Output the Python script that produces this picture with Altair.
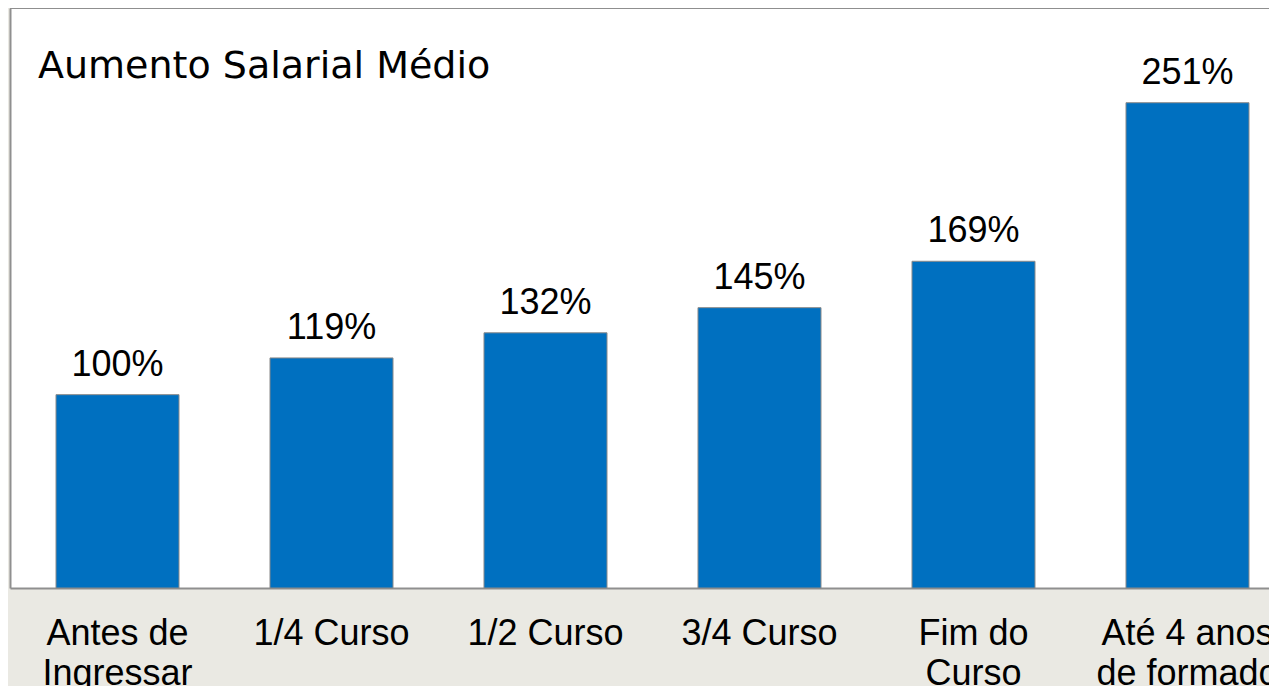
import altair as alt
import pandas as pd

TITLE = "Aumento Salarial Médio"
categories = ["Antes de\nIngressar", "1/4 Curso", "1/2 Curso", "3/4 Curso",
              "Fim do\nCurso", "Até 4 anos\nde formado"]
values = [100, 119, 132, 145, 169, 251]

df = pd.DataFrame({"cat": categories, "val": values})

BAR = "#0070C0"
FRAME = "#8f8f8f"
FONT = "Liberation Sans"

x = alt.X(
    "cat:N",
    sort=categories,
    scale=alt.Scale(paddingInner=0.4252, paddingOuter=0.1542, align=0.697),
    axis=alt.Axis(
        title=None, labelAngle=0, ticks=False, tickSize=0, domain=True,
        domainColor=FRAME, domainWidth=2, labelFont=FONT, labelFontSize=36,
        labelColor="#000000", labelPadding=28, labelLineHeight=40,
        labelLimit=400, labelOverlap=False,
        labelExpr="split(datum.label, '\\n')",
    ),
)
y = alt.Y(
    "val:Q",
    scale=alt.Scale(domain=[0, 300], nice=False),
    axis=alt.Axis(title=None, labels=False, ticks=False, grid=False,
                  domain=True, domainColor=FRAME, domainWidth=2),
)

base = alt.Chart(df)

bars = base.mark_bar(color=BAR, stroke="#8a8a8a", strokeWidth=1).encode(x=x, y=y)

text = base.transform_calculate(lbl="datum.val + '%'").mark_text(
    baseline="alphabetic", dy=-19, fontSize=36, font=FONT, color="#000000"
).encode(x=alt.X("cat:N", sort=categories), y="val:Q", text="lbl:N")

top_rule = alt.Chart(pd.DataFrame({"v": [300]})).mark_rule(
    color=FRAME, strokeWidth=2
).encode(y="v:Q")

title = alt.Chart(pd.DataFrame({"t": [TITLE]})).mark_text(
    align="left", baseline="alphabetic", fontSize=38, font="DejaVu Sans",
    color="#000000"
).encode(text="t:N", x=alt.value(28), y=alt.value(70))

chart = alt.layer(bars, text, top_rule, title).properties(
    width=1259, height=580,
    autosize=alt.AutoSizeParams(type="none"),
    padding={"left": 2, "top": 0, "right": 0, "bottom": 98},
    background="#EAE9E3",
).configure_view(fill="white", stroke="transparent")

chart.save("out.html", embed_options={"renderer": "svg", "actions": False})
